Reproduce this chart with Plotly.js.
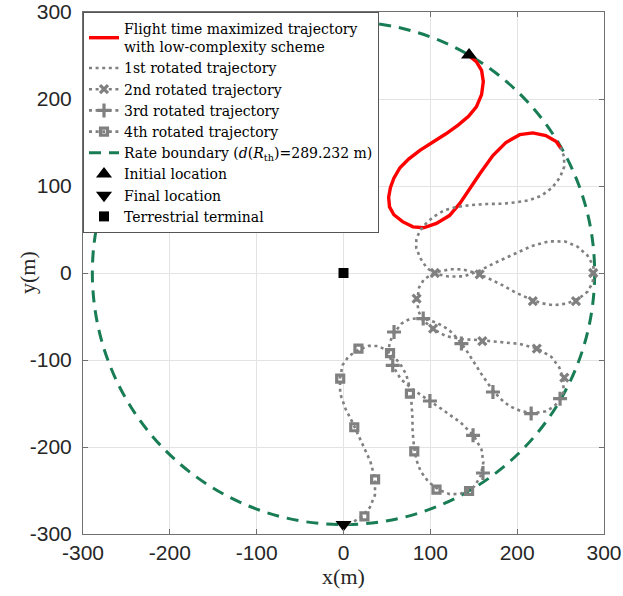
<!DOCTYPE html>
<html>
<head>
<meta charset="utf-8">
<script src="https://cdn.plot.ly/plotly-3.0.1.min.js"></script>
<style>html,body{margin:0;padding:0;background:#fff;}</style>
</head>
<body>
<div id="chart" style="width:623px;height:596px;"></div>
<script>
// Flight time maximized trajectory (red)
const redX = [144,153,159,161,159,153,144,132,118,103,88,75,65,58,54,52,53,58,68,80,92,107,122,134,145,157,172,187,203,218,233,245,250.5];
const redY = [250,243,233,220,205,191,180,170,160,151,141,131,121,109,98,87,76,67,59,53,52,57,66,80,97,114,135,150,159,161,158,151,143];

// 1st rotated trajectory
const rot1X = [249.7,254,254.2,249.4,240.2,228,214.7,199.3,182.2,164.7,146.7,130.5,116.8,104.7,95.8,88.5,83.9,83.7,88.4,95.8,105.7,121.2,138.7,156,174.1,193,216.5,236.9,255.3,269.3,280.8,287.7,288.4];
const rot1Y = [144.5,133.9,122.3,110,98,88.9,83.9,81.2,79.6,79.3,78.1,75.9,72.3,65.4,57.9,49.3,39.3,29,17.1,5.9,-1,-4.1,-3.8,2.3,11.5,20.2,30.9,36.4,36.2,30.4,20.3,8.3,-1.4];

// 2nd rotated trajectory
const rot2X = [288.5,286.9,281.3,271,257,241.9,227.9,213.2,197.6,182.3,166.1,150.9,137.3,123.4,111.9,101.3,92.3,87,85.1,85.9,91,102.9,118.2,136.3,156.5,177.2,202.9,223.4,239.2,248.4,253.3,253.3,249.1];
const rot2Y = [0.3,-11,-21.2,-29.4,-35.2,-37,-34.7,-29.3,-22.2,-13.7,-5.7,0.5,4.2,4.3,2.2,-1.5,-7.9,-16.7,-29.4,-42.8,-53.7,-64.2,-72.7,-76,-77.1,-79,-81.5,-86.9,-96.3,-108.3,-122.8,-136.7,-145.4];
const rot2MarkX = [287.6,267.7,218,156.8,105.2,84.2,103.2,159.9,222.6,254.3];
const rot2MarkY = [0,-32.2,-32.2,-1.5,0,-29.4,-63.9,-78.2,-86.9,-120.2];

// 3rd rotated trajectory
const rot3X = [250,243,233,220,205,191,180,170,160,151,141,131,121,109,98,87,76,67,59,53,52,57,66,80,97,114,135,150,159,161,158,151,143];
const rot3Y = [-144,-153,-159,-161,-159,-153,-144,-132,-118,-103,-88,-75,-65,-58,-54,-52,-53,-58,-68,-80,-92,-107,-122,-134,-145,-157,-172,-187,-203,-218,-233,-245,-250.5];
const rot3MarkX = [249.4,216.1,172.1,135.8,91.8,58.2,56.7,99.5,149.2,160.6];
const rot3MarkY = [-144.4,-161.6,-136.8,-81.1,-52.4,-67.8,-106.1,-147.1,-186.6,-229.9];

// 4th rotated trajectory
const rot4X = [144.5,133.9,122.3,110,98,88.9,83.9,81.2,79.6,79.3,78.1,75.9,72.3,65.4,57.9,49.3,39.3,29,17.1,5.9,-1,-4.1,-3.8,2.3,11.5,20.2,30.9,36.4,36.2,30.4,20.3,8.3,-1.4];
const rot4Y = [-249.7,-254,-254.2,-249.4,-240.2,-228,-214.7,-199.3,-182.2,-164.7,-146.7,-130.5,-116.8,-104.7,-95.8,-88.5,-83.9,-83.7,-88.4,-95.8,-105.7,-121.2,-138.7,-156,-174.1,-193,-216.5,-236.9,-255.3,-269.3,-280.8,-287.7,-288.4];
const rot4MarkX = [144.6,107.1,81.5,76.5,53.6,17.2,-3.8,12.4,36.4,24.1];
const rot4MarkY = [-250.6,-249,-205,-138.6,-92,-86.9,-121.4,-177.3,-237.1,-279.7];

// Rate boundary radius, locations
const boundaryRadius = [289.232];
const initialLoc = [144.6, 250.5];
const finalLoc = [0, -289.2];
const terminalLoc = [0, 0];

// Axis ticks
const tickVals = [-300,-200,-100,0,100,200,300];
const tickText = ['-300','-200','-100','0','100','200','300'];

const names = [
  'Flight time maximized trajectory<br>with low-complexity scheme',
  '1st rotated trajectory',
  '2nd rotated trajectory',
  '3rd rotated trajectory',
  '4th rotated trajectory',
  'Rate boundary (<i>d</i>(<i>R</i><sub>th</sub>)=289.232 m)',
  'Initial location',
  'Final location',
  'Terrestrial terminal'
];

const GRAY = 'rgb(128,128,128)';
const RED = 'rgb(255,0,0)';
const GREEN = 'rgb(24,125,84)';
const DOT = '3px,3.6px';
const DASH = '12px,8px';

const xMarker = {symbol: 'x-thin', size: 8, color: GRAY, line: {color: GRAY, width: 3.2}};
const plusMarker = {symbol: 'cross-thin', size: 10, color: GRAY, line: {color: GRAY, width: 3.2}};
const sqMarker = {symbol: 'square-open', size: 7, color: GRAY, line: {color: GRAY, width: 3.2}};

const traces = [
  {x: redX, y: redY, mode: 'lines', name: names[0], line: {color: RED, width: 3.4}},
  {x: rot1X, y: rot1Y, mode: 'lines', name: names[1], line: {color: GRAY, width: 2.6, dash: DOT}},
  {x: [null], y: [null], mode: 'lines+markers', name: names[2], line: {color: GRAY, width: 2.6, dash: DOT}, marker: xMarker},
  {x: [null], y: [null], mode: 'lines+markers', name: names[3], line: {color: GRAY, width: 2.6, dash: DOT}, marker: plusMarker},
  {x: [null], y: [null], mode: 'lines+markers', name: names[4], line: {color: GRAY, width: 2.6, dash: DOT}, marker: sqMarker},
  {x: [null], y: [null], mode: 'lines', name: names[5], line: {color: GREEN, width: 3, dash: DASH}},
  {x: rot2X, y: rot2Y, mode: 'lines', showlegend: false, line: {color: GRAY, width: 2.6, dash: DOT}},
  {x: rot2MarkX, y: rot2MarkY, mode: 'markers', showlegend: false, marker: xMarker},
  {x: rot3X, y: rot3Y, mode: 'lines', showlegend: false, line: {color: GRAY, width: 2.6, dash: DOT}},
  {x: rot3MarkX, y: rot3MarkY, mode: 'markers', showlegend: false, marker: plusMarker},
  {x: rot4X, y: rot4Y, mode: 'lines', showlegend: false, line: {color: GRAY, width: 2.6, dash: DOT}},
  {x: rot4MarkX, y: rot4MarkY, mode: 'markers', showlegend: false, marker: sqMarker},
  {x: [initialLoc[0]], y: [initialLoc[1]], mode: 'markers', name: names[6],
   marker: {symbol: 'triangle-up', size: 14, color: '#000'}},
  {x: [finalLoc[0]], y: [finalLoc[1]], mode: 'markers', name: names[7],
   marker: {symbol: 'triangle-down', size: 14, color: '#000'}},
  {x: [terminalLoc[0]], y: [terminalLoc[1]], mode: 'markers', name: names[8],
   marker: {symbol: 'square', size: 10, color: '#000'}}
];

const R = boundaryRadius[0];
const axisCommon = {
  range: [-300, 300], tickvals: tickVals, ticktext: tickText,
  showgrid: true, gridcolor: '#e3e3e3', gridwidth: 1, zeroline: false,
  showline: true, linecolor: '#707070', linewidth: 1, mirror: 'ticks',
  ticks: 'inside', ticklen: 5, tickcolor: '#707070', tickwidth: 1,
  tickfont: {family: 'Liberation Sans, Arial, sans-serif', size: 21, color: '#262626'},
  fixedrange: true
};

const titleFont = {family: 'Liberation Serif, serif', size: 22, color: '#262626'};

const layout = {
  width: 623, height: 596,
  margin: {l: 83, r: 19, t: 12, b: 62},
  paper_bgcolor: '#fff', plot_bgcolor: '#fff',
  showlegend: true,
  xaxis: Object.assign({}, axisCommon, {
    ticklabelstandoff: 0,
    title: {text: 'x(m)', font: titleFont, standoff: 2}
  }),
  yaxis: Object.assign({}, axisCommon, {
    ticklabelstandoff: 6
  }),
  annotations: [{
    text: 'y(m)', xref: 'paper', yref: 'paper', x: 0, y: 0.5,
    xanchor: 'center', yanchor: 'middle', xshift: -56, textangle: -90,
    showarrow: false, font: titleFont
  }],
  legend: {
    x: 0, y: 1, xanchor: 'left', yanchor: 'top',
    bgcolor: '#fff', bordercolor: '#555', borderwidth: 1,
    font: {family: 'DejaVu Serif, serif', size: 14, color: '#000'},
    itemwidth: 30, tracegroupgap: 0
  },
  shapes: [{
    type: 'circle', xref: 'x', yref: 'y', x0: -R, x1: R, y0: -R, y1: R,
    line: {color: GREEN, width: 3, dash: DASH}, layer: 'between'
  }]
};

Plotly.newPlot('chart', traces, layout, {displayModeBar: false, staticPlot: true});
</script>
</body>
</html>
